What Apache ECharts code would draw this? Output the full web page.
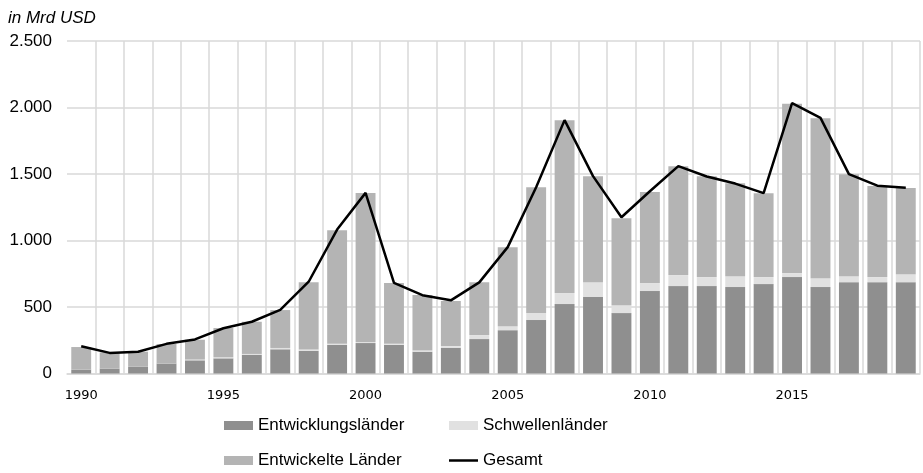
<!DOCTYPE html>
<html>
<head>
<meta charset="utf-8">
<script src="https://cdn.jsdelivr.net/npm/echarts@6/dist/echarts.min.js"></script>
<style>
  html, body { margin: 0; padding: 0; background: #fff; }
  #chart { width: 923px; height: 473px; }
</style>
</head>
<body>
<div id="chart"></div>
<script>
// Jahre 1990–2019
const years = ['1990','1991','1992','1993','1994','1995','1996','1997','1998','1999',
  '2000','2001','2002','2003','2004','2005','2006','2007','2008','2009',
  '2010','2011','2012','2013','2014','2015','2016','2017','2018','2019'];

// Werte in Mrd USD
const entwicklungslaender = [29, 36, 51, 74, 99, 114, 141, 182, 171, 216,
  229, 215, 164, 194, 259, 326, 402, 522, 575, 454,
  620, 657, 657, 650, 672, 725, 650, 687, 687, 687];
const schwellenlaender = [0, 0, 0, 0, 6, 8, 6, 10, 10, 8,
  8, 8, 8, 12, 30, 30, 53, 83, 112, 60,
  60, 83, 68, 82, 53, 30, 67, 45, 38, 60];
const entwickelteLaender = [170, 123, 113, 148, 149, 220, 242, 285, 506, 854,
  1121, 457, 418, 339, 398, 594, 946, 1300, 797, 654,
  684, 819, 759, 699, 631, 1274, 1202, 767, 684, 647];
const gesamt = [205, 155, 164, 223, 256, 340, 389, 478, 690, 1082,
  1358, 682, 589, 550, 685, 950, 1401, 1905, 1484, 1175,
  1370, 1559, 1481, 1428, 1356, 2033, 1922, 1499, 1412, 1397];

const FONT = '"Liberation Sans", Arial, sans-serif';
const fmt = v => v.toLocaleString('de-DE');

const legendBase = {
  itemWidth: 29,
  itemHeight: 9,
  itemGap: 0,
  padding: 0,
  textStyle: { fontFamily: FONT, fontSize: 17, color: '#000' },
  selectedMode: false
};

const chart = echarts.init(document.getElementById('chart'), null, { renderer: 'canvas' });
chart.setOption({
  animation: false,
  backgroundColor: '#fff',
  title: {
    text: 'in Mrd USD',
    left: 3,
    top: 5,
    textStyle: { fontFamily: FONT, fontSize: 17, fontStyle: 'italic', fontWeight: 'normal', color: '#000' }
  },
  legend: [
    Object.assign({}, legendBase, { data: [{ name: 'Entwicklungsländer', icon: 'rect' }], left: 224, top: 417 }),
    Object.assign({}, legendBase, { data: [{ name: 'Schwellenländer', icon: 'rect' }], left: 449, top: 417 }),
    Object.assign({}, legendBase, { data: [{ name: 'Entwickelte Länder', icon: 'rect' }], left: 224, top: 452 }),
    Object.assign({}, legendBase, { data: [{ name: 'Gesamt', icon: 'rect' }], itemHeight: 2.5, left: 449, top: 452 })
  ],
  grid: { left: 67, right: 3, top: 41, bottom: 99.5, containLabel: false },
  xAxis: {
    type: 'category',
    data: years,
    boundaryGap: true,
    axisLine: { show: true, lineStyle: { color: '#d9d9d9', width: 1.5 } },
    axisTick: { show: false },
    axisLabel: {
      interval: 4,
      margin: 16,
      fontFamily: '"DejaVu Sans", Verdana, sans-serif',
      fontSize: 13,
      color: '#000'
    },
    splitLine: {
      show: true,
      interval: (idx) => idx !== 0,
      lineStyle: { color: '#d9d9d9', width: 1.5 }
    }
  },
  yAxis: {
    type: 'value',
    min: 0,
    max: 2500,
    interval: 500,
    axisLine: { show: false },
    axisTick: { show: false },
    axisLabel: {
      margin: 15,
      fontFamily: FONT,
      fontSize: 17,
      color: '#000',
      formatter: fmt
    },
    splitLine: { lineStyle: { color: '#d9d9d9', width: 1.5 } }
  },
  series: [
    {
      name: 'Entwicklungsländer', type: 'bar', stack: 'fdi', barWidth: '70%',
      itemStyle: { color: '#8f8f8f' }, data: entwicklungslaender
    },
    {
      name: 'Schwellenländer', type: 'bar', stack: 'fdi', barWidth: '70%',
      itemStyle: { color: '#e1e1e1' }, data: schwellenlaender
    },
    {
      name: 'Entwickelte Länder', type: 'bar', stack: 'fdi', barWidth: '70%',
      itemStyle: { color: '#b4b4b4' }, data: entwickelteLaender
    },
    {
      name: 'Gesamt', type: 'line', symbol: 'none', z: 5,
      lineStyle: { color: '#000', width: 2.5 }, itemStyle: { color: '#000' },
      data: gesamt
    }
  ]
});
</script>
</body>
</html>
